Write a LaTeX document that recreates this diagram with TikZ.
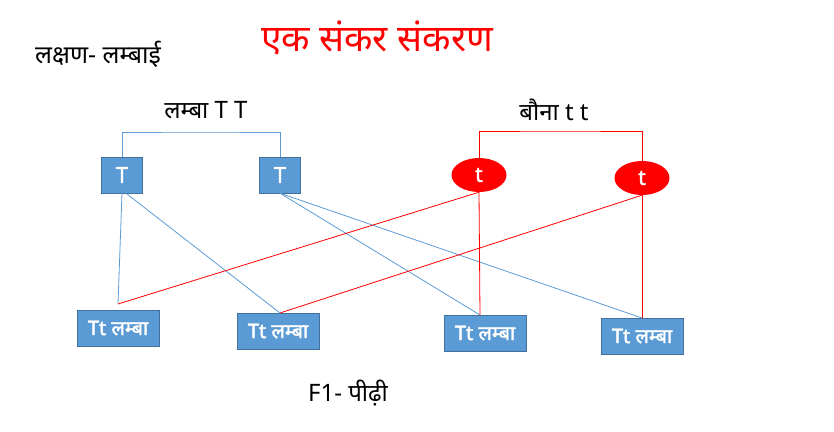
\documentclass[tikz,border=0pt]{standalone}
\usepackage{fontspec}
\setmainfont{Noto Sans}
\newfontfamily\deva[Script=Devanagari]{Noto Sans}
\newfontfamily\devab[Script=Devanagari,FakeBold=2]{Noto Sans}
\usepackage{tikz}
\usetikzlibrary{shapes.geometric}
\definecolor{boxblue}{HTML}{5B9BD5}
\definecolor{boxedge}{HTML}{41719C}
\tikzset{
    parentT/.style={draw=boxedge, fill=boxblue, text=white, minimum width=41pt, minimum height=36pt, inner sep=0pt, font=\devab\fontsize{22}{22}\selectfont},
    parentt/.style={ellipse, fill=red, text=white, minimum width=55pt, minimum height=34pt, inner sep=0pt, font=\devab\fontsize{21}{21}\selectfont},
    child/.style={draw=boxedge, fill=boxblue, text=white, minimum width=82pt, minimum height=36pt, inner sep=1pt, font=\devab\fontsize{20}{20}\selectfont},
    plainlabel/.style={font=\deva\fontsize{24}{24}\selectfont},
    blueline/.style={boxblue, line width=0.8pt},
    redline/.style={red, line width=0.8pt}
}

\begin{document}
\begin{tikzpicture}[x=1pt, y=-1pt]
    \useasboundingbox (0,0) rectangle (834,431);
    \node[red, font=\deva\fontsize{37}{37}\selectfont] (title) at (377,38) {एक संकर संकरण};
    \node[font=\deva\fontsize{25}{25}\selectfont] (trait) at (98,54) {लक्षण- लम्बाई};
    \node[plainlabel] (tall) at (206,110) {लम्बा T T};
    \node[plainlabel] (dwarf) at (554,110) {बौना t t};

    % जनक
    \node[parentT] (T1) at (122,175) {T};
    \node[parentT] (T2) at (280,175) {T};
    \node[parentt] (t1) at (479,175) {t};
    \node[parentt] (t2) at (642,178) {t};
    \draw[blueline] (T1.north) |- (200,132) -| (T2.north);
    \draw[redline] (t1.north) |- (560,131) -| (t2.north);

    % F1 संतति
    \node[child] (c1) at (118,328) {Tt लम्बा};
    \node[child] (c2) at (278,331) {Tt लम्बा};
    \node[child] (c3) at (485,333) {Tt लम्बा};
    \node[child] (c4) at (642,336) {Tt लम्बा};
    \coordinate (p1) at (118,304);
    \coordinate (p2) at (280,313);
    \coordinate (p3) at (480,315);
    \coordinate (p4) at (642,318);

    \draw[blueline] (T1.south) -- (p1);
    \draw[blueline] (T1.south) ++(4,0) -- (p2);
    \draw[blueline] (T2.south) -- (p3);
    \draw[blueline] (T2.south) -- (p4);
    \draw[redline] (t1.south) -- (p1);
    \draw[redline] (t1.south) -- (p3);
    \draw[redline] (t2.south) -- (p2);
    \draw[redline] (t2.south) -- (p4);

    \node[plainlabel] (gen) at (348,393) {F1- पीढ़ी};
\end{tikzpicture}
\end{document}
